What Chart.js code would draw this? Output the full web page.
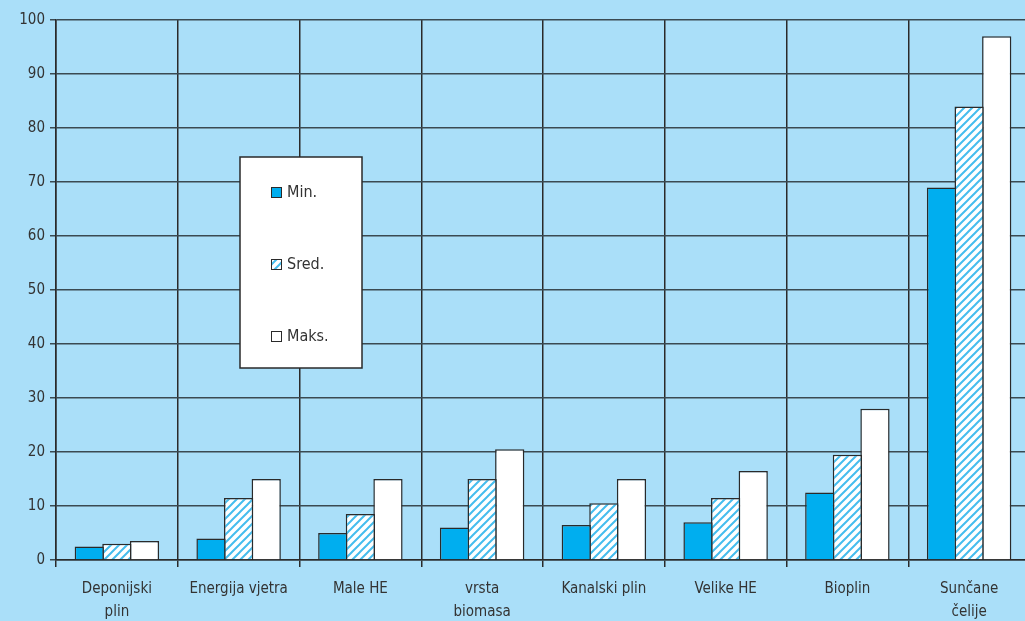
<!DOCTYPE html>
<html>
<head>
<meta charset="utf-8">
<script src="https://cdn.jsdelivr.net/npm/chart.js@4.4.1/dist/chart.umd.min.js"></script>
<style>
  html, body { margin: 0; padding: 0; background: #aadff9; overflow: hidden; }
  #wrap { width: 1025px; height: 621px; overflow: hidden; }
</style>
</head>
<body>
<div id="wrap"><canvas id="barChart" width="1030" height="621"></canvas></div>
<script>
// data
var categories = [['Deponijski', 'plin'], 'Energija vjetra', 'Male HE', ['vrsta', 'biomasa'],
    'Kanalski plin', 'Velike HE', 'Bioplin', ['Sunčane', 'čelije']];
var minValues = [2.5, 4, 5, 6, 6.5, 7, 12.5, 69];
var sredValues = [3, 11.5, 8.5, 15, 10.5, 11.5, 19.5, 84];
var maksValues = [3.5, 15, 15, 20.5, 15, 16.5, 28, 97];
var seriesNames = ['Min.', 'Sred.', 'Maks.'];

var fontFamily = '"DejaVu Sans Condensed", "Liberation Sans", sans-serif';
var textColor = '#333';
var lineColor = '#2a2a2a';

// hatched fill for the "Sred." series
function makeHatch() {
    var c = document.createElement('canvas');
    c.width = 8; c.height = 8;
    var g = c.getContext('2d');
    g.fillStyle = '#ffffff';
    g.fillRect(0, 0, 8, 8);
    g.strokeStyle = '#45bdee';
    g.lineWidth = 2;
    g.beginPath();
    g.moveTo(-2, 10); g.lineTo(10, -2);
    g.moveTo(-2, 2); g.lineTo(2, -2);
    g.moveTo(6, 10); g.lineTo(10, 6);
    g.stroke();
    return g.createPattern(c, 'repeat');
}
var hatch = makeHatch();

var fills = ['#00aeef', hatch, '#ffffff'];

// legend box drawn inside the plot, like the original
var boxLegend = {
    id: 'boxLegend',
    afterDraw: function (chart) {
        var ctx = chart.ctx;
        ctx.save();
        ctx.fillStyle = '#ffffff';
        ctx.fillRect(240, 157, 122, 211);
        ctx.strokeStyle = lineColor;
        ctx.lineWidth = 1.5;
        ctx.strokeRect(240, 157, 122, 211);
        var rows = [192, 264, 336];
        ctx.font = '16px ' + fontFamily;
        ctx.textBaseline = 'middle';
        for (var i = 0; i < 3; i++) {
            ctx.fillStyle = fills[i];
            ctx.fillRect(271, rows[i] - 5, 11, 11);
            ctx.strokeStyle = lineColor;
            ctx.lineWidth = 1;
            ctx.strokeRect(271.5, rows[i] - 4.5, 10, 10);
            ctx.fillStyle = textColor;
            ctx.fillText(seriesNames[i], 287, rows[i] + 1);
        }
        ctx.restore();
    }
};

var ctx1 = document.getElementById('barChart').getContext('2d');
var barChart = new Chart(ctx1, {
    type: 'bar',
    data: {
        labels: categories,
        datasets: [{
            label: seriesNames[0],
            data: minValues,
            backgroundColor: fills[0],
            borderColor: lineColor,
            borderWidth: 1.5
        }, {
            label: seriesNames[1],
            data: sredValues,
            backgroundColor: fills[1],
            borderColor: lineColor,
            borderWidth: 1.5
        }, {
            label: seriesNames[2],
            data: maksValues,
            backgroundColor: fills[2],
            borderColor: lineColor,
            borderWidth: 1.5
        }]
    },
    options: {
        responsive: false,
        animation: false,
        categoryPercentage: 0.68,
        barPercentage: 1.06,
        layout: { padding: { top: 20, left: 0, right: 0, bottom: 0 } },
        plugins: {
            legend: { display: false },
            tooltip: { enabled: false }
        },
        scales: {
            x: {
                offset: true,
                grid: {
                    offset: true,
                    color: lineColor,
                    lineWidth: 1.5,
                    tickLength: 7
                },
                border: { color: lineColor, width: 1.5 },
                ticks: {
                    color: textColor,
                    font: { family: fontFamily, size: 15, lineHeight: 1.5 },
                    padding: 11,
                    maxRotation: 0,
                    autoSkip: false
                },
                afterFit: function (s) { s.height = 61; }
            },
            y: {
                min: 0,
                max: 100,
                ticks: {
                    stepSize: 10,
                    color: textColor,
                    font: { family: fontFamily, size: 15 },
                    padding: 5
                },
                grid: {
                    color: '#3a4a52',
                    lineWidth: 1.5,
                    tickLength: 6
                },
                border: { color: lineColor, width: 1.5 },
                afterFit: function (s) { s.width = 56; }
            }
        }
    },
    plugins: [boxLegend]
});
</script>
</body>
</html>
